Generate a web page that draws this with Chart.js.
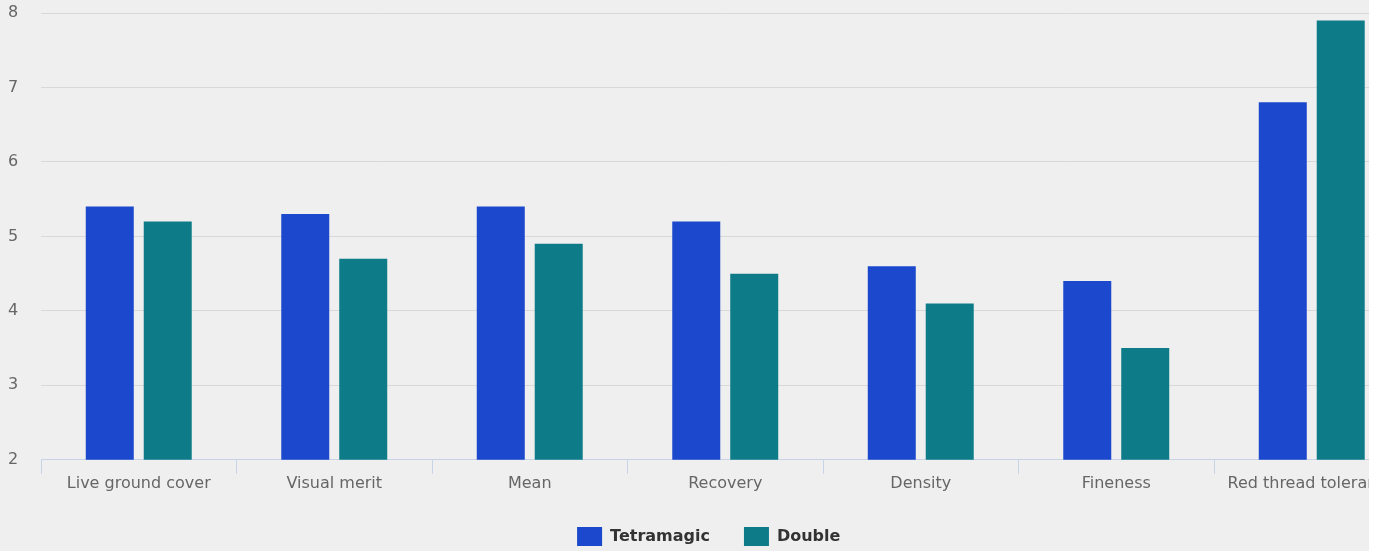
<!DOCTYPE html>
<html>
<head>
<meta charset="utf-8">
<script src="https://cdn.jsdelivr.net/npm/chart.js@4.4.1/dist/chart.umd.min.js"></script>
<style>
  html, body { margin: 0; padding: 0; background: #ffffff; }
  #frame { width: 1369px; height: 551px; overflow: hidden; background: #efefef; }
  #wrap { width: 1414px; height: 556px; position: relative; }
</style>
</head>
<body>
<div id="frame">
  <div id="wrap"><canvas id="scoreChart"></canvas></div>
</div>
<script>
const CATEGORIES = ['Live ground cover', 'Visual merit', 'Mean', 'Recovery', 'Density', 'Fineness', 'Red thread tolerance'];
const TETRAMAGIC = [5.4, 5.3, 5.4, 5.2, 4.6, 4.4, 6.8];
const DOUBLE = [5.2, 4.7, 4.9, 4.5, 4.1, 3.5, 7.9];

Chart.defaults.font.family = '"DejaVu Sans", sans-serif';
Chart.defaults.font.size = 16;

new Chart(document.getElementById('scoreChart'), {
  type: 'bar',
  data: {
    labels: CATEGORIES,
    datasets: [
      { label: 'Tetramagic', data: TETRAMAGIC, backgroundColor: '#1b48cc' },
      { label: 'Double', data: DOUBLE, backgroundColor: '#0e7c88' }
    ]
  },
  options: {
    responsive: true,
    maintainAspectRatio: false,
    animation: false,
    categoryPercentage: 0.593,
    barPercentage: 0.828,
    layout: { padding: { left: 8, right: 4.5, top: 13, bottom: 0 } },
    plugins: {
      tooltip: { enabled: false },
      legend: {
        position: 'bottom',
        labels: {
          boxWidth: 25,
          boxHeight: 19,
          padding: 34,
          color: '#333333',
          font: { size: 16, weight: 'bold' }
        }
      }
    },
    scales: {
      x: {
        grid: { offset: true, drawOnChartArea: false, drawTicks: true, tickLength: 14, color: '#c6d4e6' },
        border: { display: true, color: '#c6d4e6' },
        ticks: { color: '#666666', padding: 0, maxRotation: 0, autoSkip: false }
      },
      y: {
        min: 2,
        max: 8,
        afterFit: (scale) => { scale.width = 33; },
        grid: { color: '#d8d8d8', drawTicks: false, lineWidth: 1 },
        border: { display: false },
        ticks: { stepSize: 1, color: '#666666', padding: 0, crossAlign: 'far' }
      }
    }
  }
});
</script>
</body>
</html>
